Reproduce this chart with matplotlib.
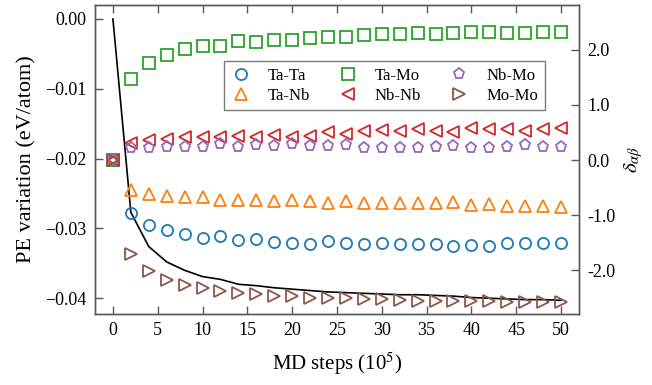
import matplotlib.pyplot as plt
from matplotlib.ticker import FuncFormatter

plt.rcParams['font.family'] = ['Liberation Serif', 'DejaVu Serif']
plt.rcParams['mathtext.fontset'] = 'stix'

# MD steps (10^5)
steps = [0, 2, 4, 6, 8, 10, 12, 14, 16, 18, 20, 22, 24,
         26, 28, 30, 32, 34, 36, 38, 40, 42, 44, 46, 48, 50]

# PE variation (eV/atom), left axis
pe = [0.0, -0.0277, -0.0326, -0.0348, -0.0360, -0.0369, -0.0373, -0.0380, -0.0382,
      -0.0385, -0.0387, -0.0389, -0.0391, -0.0392, -0.0393, -0.0394, -0.0395,
      -0.0395, -0.0396, -0.0397, -0.0399, -0.0400, -0.0401, -0.0402, -0.0402, -0.0403]

# delta_ab per pair, right axis
ta_ta = [0.0, -0.97, -1.18, -1.27, -1.35, -1.41, -1.38, -1.45, -1.44, -1.49, -1.50, -1.53, -1.47,
         -1.50, -1.53, -1.50, -1.53, -1.53, -1.53, -1.56, -1.55, -1.56, -1.51, -1.51, -1.51, -1.51]
ta_nb = [0.0, -0.55, -0.62, -0.65, -0.68, -0.68, -0.73, -0.73, -0.73, -0.74, -0.72, -0.74, -0.78,
         -0.74, -0.78, -0.79, -0.78, -0.79, -0.78, -0.76, -0.82, -0.80, -0.83, -0.83, -0.84, -0.85]
ta_mo = [0.0, 1.47, 1.77, 1.91, 2.01, 2.07, 2.07, 2.16, 2.15, 2.19, 2.18, 2.21, 2.23,
         2.23, 2.27, 2.29, 2.29, 2.30, 2.29, 2.30, 2.32, 2.33, 2.31, 2.30, 2.32, 2.33]
nb_nb = [0.0, 0.30, 0.36, 0.39, 0.41, 0.41, 0.41, 0.44, 0.42, 0.45, 0.42, 0.44, 0.50,
         0.47, 0.53, 0.55, 0.53, 0.56, 0.53, 0.51, 0.58, 0.56, 0.56, 0.53, 0.56, 0.59]
nb_mo = [0.0, 0.21, 0.22, 0.24, 0.24, 0.24, 0.29, 0.23, 0.27, 0.26, 0.29, 0.26, 0.26,
         0.27, 0.21, 0.22, 0.22, 0.22, 0.24, 0.25, 0.21, 0.21, 0.24, 0.27, 0.24, 0.23]
mo_mo = [0.0, -1.71, -2.01, -2.18, -2.27, -2.33, -2.39, -2.42, -2.44, -2.47, -2.47, -2.50, -2.51,
         -2.51, -2.53, -2.53, -2.55, -2.56, -2.56, -2.56, -2.56, -2.56, -2.58, -2.58, -2.59, -2.59]

series = [('Ta-Ta', ta_ta, 'o', '#1f77b4'),
          ('Ta-Nb', ta_nb, '^', '#ff7f0e'),
          ('Ta-Mo', ta_mo, 's', '#2ca02c'),
          ('Nb-Nb', nb_nb, '<', '#d62728'),
          ('Nb-Mo', nb_mo, 'p', '#9467bd'),
          ('Mo-Mo', mo_mo, '>', '#8c564b')]

fig, ax = plt.subplots(figsize=(6.52, 3.85), dpi=100)
fig.subplots_adjust(left=0.1457, right=0.888, top=0.987, bottom=0.1844)

ax.plot(steps, pe, color='black', lw=1.2)
ax.set_xlim(-2, 52)
ax.set_ylim(-0.04226, 0.0020)
ax.set_xticks(range(0, 51, 5))
ax.set_yticks([0.0, -0.01, -0.02, -0.03, -0.04])
ax.yaxis.set_major_formatter(FuncFormatter(lambda v, p: '%.2f' % v if v == 0 else ('\u2212%.2f' % abs(v))))
ax.set_xlabel('MD steps (10$^{5}$)', fontsize=15, labelpad=8)
ax.set_ylabel('PE variation (eV/atom)', fontsize=16, labelpad=6)
ax.tick_params(direction='in', length=6, width=1, labelsize=13, color='0.35', top=True, pad=6)

ax2 = ax.twinx()
for name, vals, mk, col in series:
    ax2.plot(steps, vals, linestyle='none', marker=mk, ms=8, mfc='none', mec=col,
             mew=1.3, label=name)
ax2.set_ylim(-2.8, 2.818)
ax2.set_yticks([2.0, 1.0, 0.0, -1.0, -2.0])
ax2.yaxis.set_major_formatter(FuncFormatter(lambda v, p: '%.1f' % v))
ax2.set_ylabel(r'$\delta_{\alpha\beta}$', fontsize=15, labelpad=5)
ax2.tick_params(direction='in', length=6, width=1, labelsize=13, color='0.35', pad=6)

for a in (ax, ax2):
    for s in a.spines.values():
        s.set_color('0.35')
        s.set_linewidth(1)

leg = ax2.legend(ncol=3, loc='upper left', bbox_to_anchor=(0.2665, 0.8188),
                 borderaxespad=0, fontsize=12, frameon=True, fancybox=False,
                 edgecolor='0.35', handlelength=1.2, handletextpad=1.0,
                 columnspacing=1.7, labelspacing=0.25, borderpad=0.4, numpoints=1)
leg.get_frame().set_linewidth(1)

fig.savefig('out.png', dpi=100)
